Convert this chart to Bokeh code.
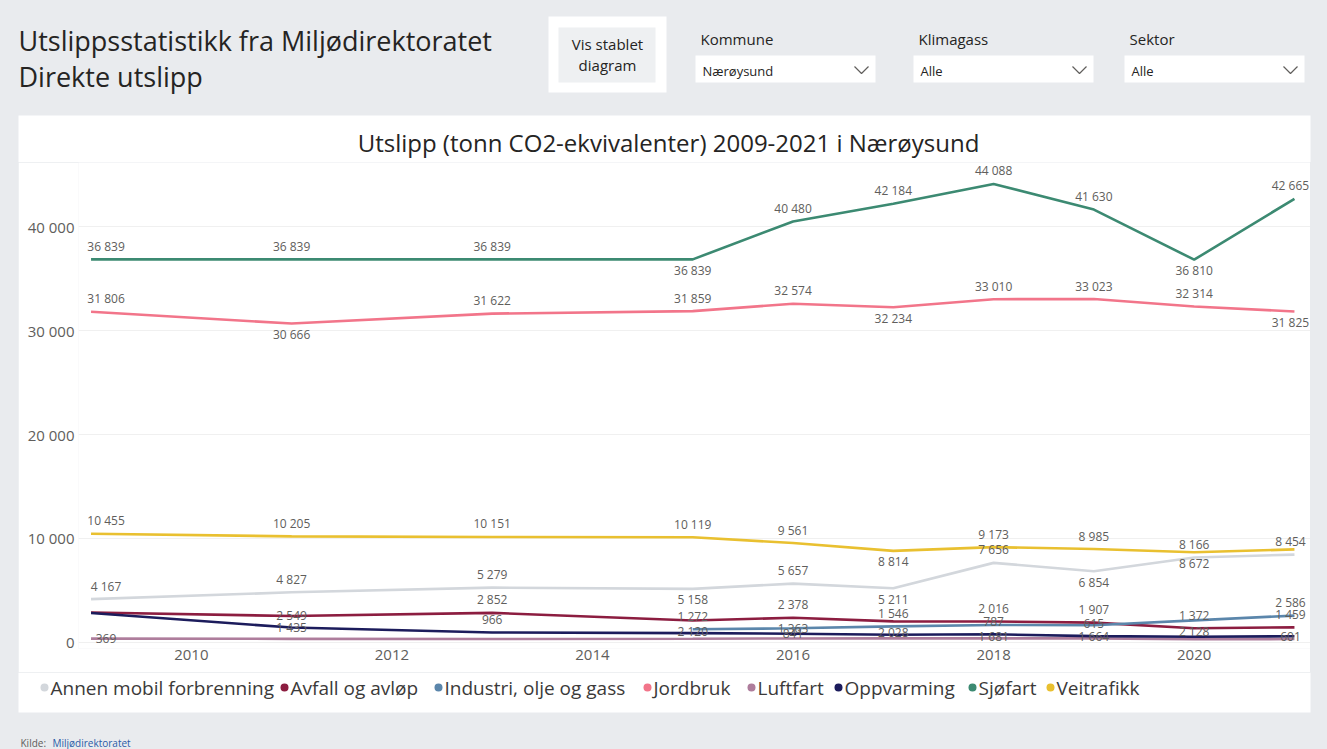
import numpy as np
from bokeh.plotting import figure
from bokeh.models import ColumnDataSource, Range1d, FixedTicker, Spacer
from bokeh.layouts import column, row
from bokeh.core.properties import value
from bokeh.embed import file_html
from bokeh.resources import INLINE

# ---------------- data ----------------
years = [2009, 2011, 2013, 2015, 2016, 2017, 2018, 2019, 2020, 2021]
series_names = ["Annen mobil forbrenning", "Avfall og avløp", "Industri, olje og gass",
                "Jordbruk", "Luftfart", "Oppvarming", "Sjøfart", "Veitrafikk"]
annen = [4167, 4827, 5279, 5158, 5657, 5211, 7656, 6854, 8166, 8454]
avfall = [2880, 2549, 2852, 2120, 2378, 2028, 2016, 1907, 1372, 1459]
industri = [np.nan, np.nan, np.nan, 1272, 1363, 1546, 1681, 1664, 2128, 2586]
jordbruk = [31806, 30666, 31622, 31859, 32574, 32234, 33010, 33023, 32314, 31825]
luftfart = [369, 352, 340, 361, 388, 405, 392, 398, 312, 330]
oppvarming = [2830, 1435, 966, 903, 841, 742, 787, 615, 560, 601]
sjofart = [36839, 36839, 36839, 36839, 40480, 42184, 44088, 41630, 36810, 42665]
veitrafikk = [10455, 10205, 10151, 10119, 9561, 8814, 9173, 8985, 8672, 8950]
series_values = [annen, avfall, industri, jordbruk, luftfart, oppvarming, sjofart, veitrafikk]

x_ticks = [2010, 2012, 2014, 2016, 2018, 2020]
x_tick_labels = ["2010", "2012", "2014", "2016", "2018", "2020"]
y_ticks = [0, 10000, 20000, 30000, 40000]
y_tick_labels = ["0", "10 000", "20 000", "30 000", "40 000"]

# ---------------- styling ----------------
colors = ["#d3d7dc", "#8c1d40", "#5b86ab", "#f2758a", "#ae7d9c", "#1c1c5c", "#3c8a72", "#e9c030"]
# data-label placement per series/year: a = above, b = below, c = on the line, "" = hidden
label_pos = [
    ["a", "a", "a", "b", "a", "b", "a", "b", "a", "a"],
    ["", "c", "a", "b", "a", "b", "a", "a", "a", "a"],
    ["", "", "", "a", "c", "a", "b", "b", "b", "a"],
    ["a", "b", "a", "a", "a", "b", "a", "a", "a", "b"],
    ["c", "", "", "", "", "", "", "", "", ""],
    ["", "c", "a", "", "c", "", "a", "a", "", "c"],
    ["a", "a", "a", "b", "a", "a", "a", "a", "b", "a"],
    ["a", "a", "a", "a", "a", "b", "a", "a", "b", ""],
]
offsets = {"a": -13, "b": 11, "c": 0}
legend_marker_x = [44, 284, 438, 647, 751, 838, 972, 1050]   # layout positions (px)

BG = "#e9ebee"
FONT = "Open Sans"
TXT = "#252423"
W = 1327

def fmt(v):
    return f"{int(round(v)):,}".replace(",", " ")

def pixel_fig(x0, x1, y0, y1, bg):
    f = figure(width=x1 - x0, height=y1 - y0, x_range=Range1d(x0, x1), y_range=Range1d(y1, y0),
               toolbar_location=None, output_backend="svg", min_border=0,
               x_axis_location=None, y_axis_location=None, outline_line_color=None,
               background_fill_color=bg, border_fill_color=bg)
    f.grid.visible = False
    return f

# ---------------- header ----------------
hdr = pixel_fig(0, W, 0, 162, BG)
hdr.quad(left=[18], right=[1310], top=[115], bottom=[162], fill_color="white", line_color=None)
hdr.text(x=[18, 18], y=[40, 76], text=["Utslippsstatistikk fra Miljødirektoratet", "Direkte utslipp"],
         text_font=value(FONT), text_font_size="27px", text_baseline="middle", text_color=TXT)
# button
hdr.quad(left=[548], right=[666], top=[16], bottom=[92], fill_color="white", line_color=None)
hdr.quad(left=[558], right=[655], top=[27], bottom=[82], fill_color="#eef0f2", line_color=None)
hdr.text(x=[607, 607], y=[43, 64], text=["Vis stablet", "diagram"], text_align="center",
         text_baseline="middle", text_font=value(FONT), text_font_size="15px", text_color=TXT)
# slicers
sl_x = [695, 913, 1124]
sl_titles = ["Kommune", "Klimagass", "Sektor"]
sl_vals = ["Nærøysund", "Alle", "Alle"]
hdr.quad(left=sl_x, right=[x + 180 for x in sl_x], top=[55] * 3, bottom=[82] * 3,
         fill_color="white", line_color=None)
hdr.text(x=[x + 5 for x in sl_x], y=[38] * 3, text=sl_titles, text_baseline="middle",
         text_font=value(FONT), text_font_size="15px", text_color=TXT)
hdr.text(x=[x + 7 for x in sl_x], y=[70] * 3, text=sl_vals, text_baseline="middle",
         text_font=value(FONT), text_font_size="13px", text_color=TXT)
hdr.multi_line(xs=[[x + 159, x + 166, x + 173] for x in sl_x], ys=[[66, 73, 66]] * 3,
               line_color="#605e5c", line_width=1.2)
# chart title
hdr.text(x=[668], y=[142], text=["Utslipp (tonn CO2-ekvivalenter) 2009-2021 i Nærøysund"],
         text_align="center", text_baseline="middle", text_font=value(FONT),
         text_font_size="24px", text_color=TXT)

# ---------------- chart ----------------
p = figure(width=1292, height=510, x_range=Range1d(2008.875, 2021.16), y_range=Range1d(-577, 46154),
           toolbar_location=None, output_backend="svg", min_border_left=60, min_border_right=0,
           min_border_top=0, min_border_bottom=24, background_fill_color="white",
           border_fill_color="white", outline_line_color=None)
p.xgrid.visible = False
p.ygrid.ticker = FixedTicker(ticks=y_ticks)
p.ygrid.grid_line_color = "#f0f0f0"
p.xaxis.ticker = FixedTicker(ticks=x_ticks)
p.xaxis.major_label_overrides = dict(zip(x_ticks, x_tick_labels))
p.yaxis.ticker = FixedTicker(ticks=y_ticks)
p.yaxis.major_label_overrides = dict(zip(y_ticks, y_tick_labels))
for ax in (p.xaxis, p.yaxis):
    ax.axis_line_color = None
    ax.major_tick_line_color = None
    ax.minor_tick_line_color = None
    ax.major_tick_out = 0
    ax.major_tick_in = 0
    ax.minor_tick_out = 0
    ax.major_label_text_font = FONT
    ax.major_label_text_font_size = "15px"
    ax.major_label_text_color = "#605e5c"
p.xaxis.major_label_standoff = 1
p.yaxis.major_label_standoff = 4

lx, ly, lt, ldy, ldx = [], [], [], [], []
for name, vals, col, pos in zip(series_names, series_values, colors, label_pos):
    src = ColumnDataSource(dict(x=np.array(years, dtype=float), y=np.array(vals, dtype=float)))
    p.line("x", "y", source=src, line_color=col, line_width=2.6)
    for i, (yr, v, ps) in enumerate(zip(years, vals, pos)):
        if ps and not np.isnan(v):
            lx.append(yr); ly.append(v); lt.append(fmt(v)); ldy.append(offsets[ps])
            ldx.append(15 if i == 0 else (-4 if i == len(years) - 1 else 0))

lsrc = ColumnDataSource(dict(x=lx, y=ly, t=lt, dy=ldy, dx=ldx))
p.text("x", "y", text="t", x_offset="dx", y_offset="dy", source=lsrc, text_align="center",
       text_baseline="middle", text_font=value(FONT), text_font_size="12px", text_color="#605e5c")

# ---------------- legend (series names with coloured dots) + footer ----------------
bot = pixel_fig(0, W, 672, 749, BG)
bot.quad(left=[18], right=[1310], top=[672], bottom=[712], fill_color="white", line_color=None)
leg_src = ColumnDataSource(dict(x=legend_marker_x, y=[687] * len(series_names),
                                tx=[x + 6 for x in legend_marker_x], name=series_names, color=colors))
bot.scatter("x", "y", source=leg_src, size=8, fill_color="color", line_color=None)
bot.text("tx", "y", text="name", source=leg_src, text_baseline="middle", text_font=value(FONT),
         text_font_size="19px", text_color="#3b3a39")
bot.text(x=[20], y=[742], text=["Kilde:"], text_baseline="middle", text_font=value(FONT),
         text_font_size="10px", text_color="#605e5c")
bot.text(x=[52], y=[742], text=["Miljødirektoratet"], text_baseline="middle", text_font=value(FONT),
         text_font_size="10px", text_color="#2a5ca8")

middle = row(Spacer(width=18, height=510), p, Spacer(width=17, height=510))
layout = column(hdr, middle, bot)

html = file_html(layout, INLINE, title="Utslippsstatistikk")
html = html.replace("</head>", "<style>body{background:%s;}</style></head>" % BG, 1)
with open("out.html", "w", encoding="utf-8") as fh:
    fh.write(html)
